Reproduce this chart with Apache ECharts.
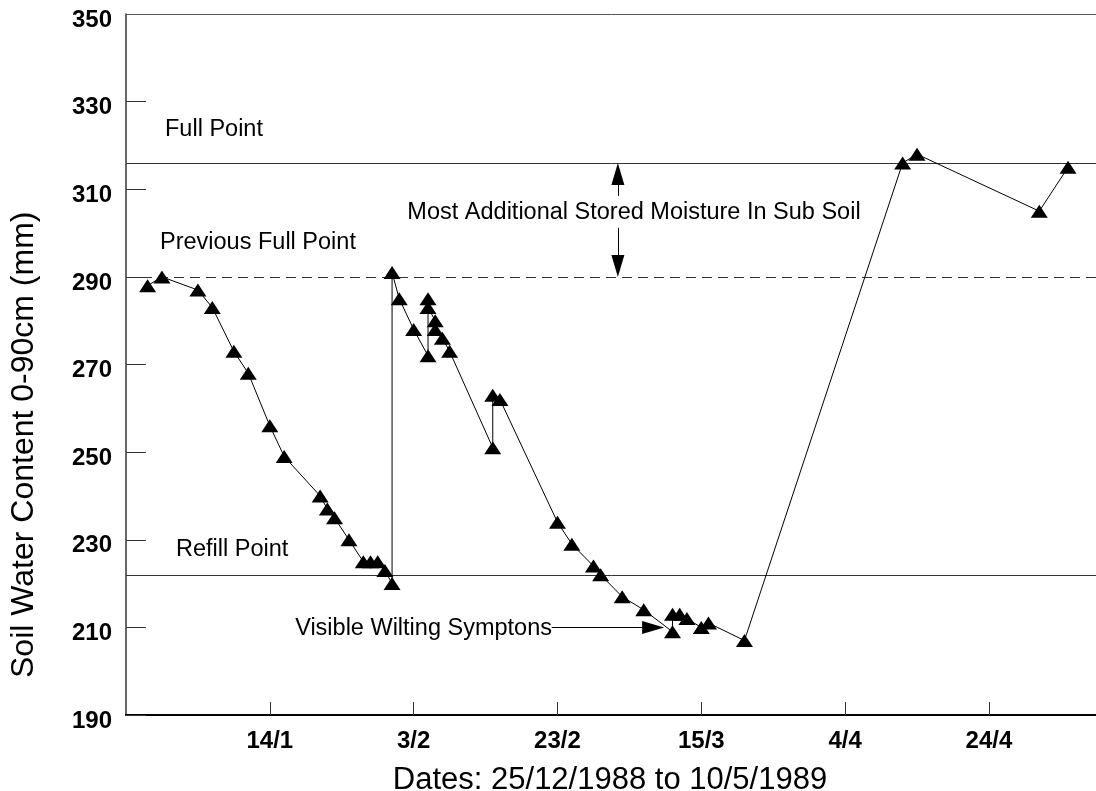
<!DOCTYPE html>
<html>
<head>
<meta charset="utf-8">
<script src="https://cdn.jsdelivr.net/npm/echarts@6/dist/echarts.min.js"></script>
<style>
  html, body { margin: 0; padding: 0; background: #fff; }
  #chart { width: 1096px; height: 791px; }
</style>
</head>
<body>
<div id="chart"></div>
<script>
// measurement dates and soil water (mm, 0-90cm)
const dates = [
  '1988-12-28', '1988-12-30', '1989-01-04', '1989-01-06', '1989-01-09', '1989-01-11',
  '1989-01-14', '1989-01-16', '1989-01-21', '1989-01-22', '1989-01-23', '1989-01-25',
  '1989-01-27', '1989-01-28', '1989-01-29', '1989-01-30', '1989-01-31', '1989-01-31',
  '1989-02-01', '1989-02-03', '1989-02-05', '1989-02-05', '1989-02-05', '1989-02-06',
  '1989-02-06', '1989-02-07', '1989-02-08', '1989-02-14', '1989-02-14', '1989-02-15',
  '1989-02-23', '1989-02-25', '1989-02-28', '1989-03-01', '1989-03-04', '1989-03-07',
  '1989-03-11', '1989-03-11', '1989-03-12', '1989-03-13', '1989-03-15', '1989-03-16',
  '1989-03-21', '1989-04-12', '1989-04-14', '1989-05-01', '1989-05-05'
];
const water = [
  288, 290, 287, 283, 273, 268,
  256, 249, 240, 237, 235, 230,
  225, 225, 225, 223, 220, 291,
  285, 278, 272, 285, 283, 280,
  278, 276, 273, 251, 263, 262,
  234, 229, 224, 222, 217, 214,
  209, 213, 213, 212, 210, 211,
  207, 316, 318, 305, 315
];

// reference levels
const fullPoint = 316;
const previousFullPoint = 290;
const refillPoint = 222;

const startDate = '1988-12-25';
const endDate = '1989-05-10';

const DAY = 86400000;
function toUTC(s) {
  const p = s.split('-').map(Number);
  return Date.UTC(p[0], p[1] - 1, p[2]);
}
const t0 = toUTC(startDate);
const dayOf = (s) => (toUTC(s) - t0) / DAY;
const points = dates.map((d, i) => [dayOf(d), water[i]]);

const font = '"Liberation Sans", Arial, Helvetica, sans-serif';

const chart = echarts.init(document.getElementById('chart'), null, { renderer: 'canvas' });

const option = {
  animation: false,
  backgroundColor: '#fff',
  // plot runs a little past the right edge, like the original figure
  grid: { left: 126, right: -8, top: 14, bottom: 76, containLabel: false, outerBoundsMode: 'none' },
  xAxis: {
    type: 'value',
    min: 0,
    max: dayOf(endDate),
    interval: 20,
    name: 'Dates: 25/12/1988 to 10/5/1989',
    nameLocation: 'middle',
    nameGap: 50,
    nameTextStyle: { fontFamily: font, fontSize: 31, color: '#000', padding: [0, 10, 0, 0] },
    axisLine: { lineStyle: { color: '#000', width: 2 } },
    axisTick: { inside: true, length: 13, lineStyle: { color: '#333', width: 1 } },
    axisLabel: {
      showMinLabel: false,
      showMaxLabel: false,
      margin: 14,
      fontFamily: font,
      fontSize: 24,
      fontWeight: 'bold',
      color: '#000',
      formatter: (v) => {
        const d = new Date(t0 + v * DAY);
        return d.getUTCDate() + '/' + (d.getUTCMonth() + 1);
      }
    },
    splitLine: { show: false }
  },
  yAxis: {
    type: 'value',
    min: 190,
    max: 350,
    interval: 20,
    axisLine: { show: true, lineStyle: { color: '#333', width: 1.5 } },
    axisTick: { show: true, inside: true, length: 20, lineStyle: { color: '#333', width: 1 } },
    axisLabel: {
      margin: 14,
      verticalAlign: 'top',
      lineHeight: 12,
      fontFamily: font,
      fontSize: 24,
      fontWeight: 'bold',
      color: '#000'
    },
    splitLine: { show: false }
  },
  graphic: [
    {
      type: 'text', x: 24, y: 678, rotation: Math.PI / 2,
      style: { text: 'Soil Water Content 0-90cm (mm)', font: '32px ' + font, fill: '#000',
               textAlign: 'left', textVerticalAlign: 'middle' }
    },
    {
      type: 'text', x: 165, y: 130,
      style: { text: 'Full Point', font: '23.5px ' + font, fill: '#000',
               textAlign: 'left', textVerticalAlign: 'middle' }
    },
    {
      type: 'text', x: 160, y: 243,
      style: { text: 'Previous Full Point', font: '23.5px ' + font, fill: '#000',
               textAlign: 'left', textVerticalAlign: 'middle' }
    },
    {
      type: 'text', x: 176, y: 550,
      style: { text: 'Refill Point', font: '23.5px ' + font, fill: '#000',
               textAlign: 'left', textVerticalAlign: 'middle' }
    },
    {
      type: 'text', x: 634, y: 213,
      style: { text: 'Most Additional Stored Moisture In Sub Soil', font: '23.5px ' + font, fill: '#000',
               textAlign: 'center', textVerticalAlign: 'middle' }
    },
    {
      type: 'text', x: 552, y: 629,
      style: { text: 'Visible Wilting Symptons', font: '23.5px ' + font, fill: '#000',
               textAlign: 'right', textVerticalAlign: 'middle' }
    }
  ],
  series: [
    {
      // reference lines and frame top
      type: 'line',
      data: [],
      silent: true,
      markLine: {
        silent: true,
        symbol: 'none',
        label: { show: false },
        data: [
          { yAxis: 350, lineStyle: { color: '#555', width: 1, type: 'solid' } },
          { yAxis: fullPoint, lineStyle: { color: '#333', width: 1, type: 'solid' } },
          { yAxis: previousFullPoint, lineStyle: { color: '#333', width: 1, type: [10, 6] } },
          { yAxis: refillPoint, lineStyle: { color: '#333', width: 1, type: 'solid' } }
        ]
      }
    },
    {
      // annotation arrows
      type: 'line',
      data: [],
      silent: true,
      markLine: {
        silent: true,
        symbol: ['none', 'triangle'],
        symbolSize: [13, 22],
        label: { show: false },
        lineStyle: { color: '#000', width: 1, type: 'solid' },
        itemStyle: { color: '#000' },
        data: [
          [{ coord: [68.4, 308.5] }, { coord: [68.4, fullPoint - 2.5] }],
          [{ coord: [68.4, 301.2] }, { coord: [68.4, previousFullPoint + 2.5] }],
          [{ coord: [59.2, 210] }, { coord: [73.3, 210] }]
        ]
      }
    },
    {
      name: 'Soil water',
      type: 'line',
      data: points,
      symbol: 'triangle',
      symbolSize: [17, 13],
      showAllSymbol: true,
      itemStyle: { color: '#000' },
      lineStyle: { color: '#000', width: 1 },
      z: 5
    }
  ]
};
chart.setOption(option);
</script>
</body>
</html>
